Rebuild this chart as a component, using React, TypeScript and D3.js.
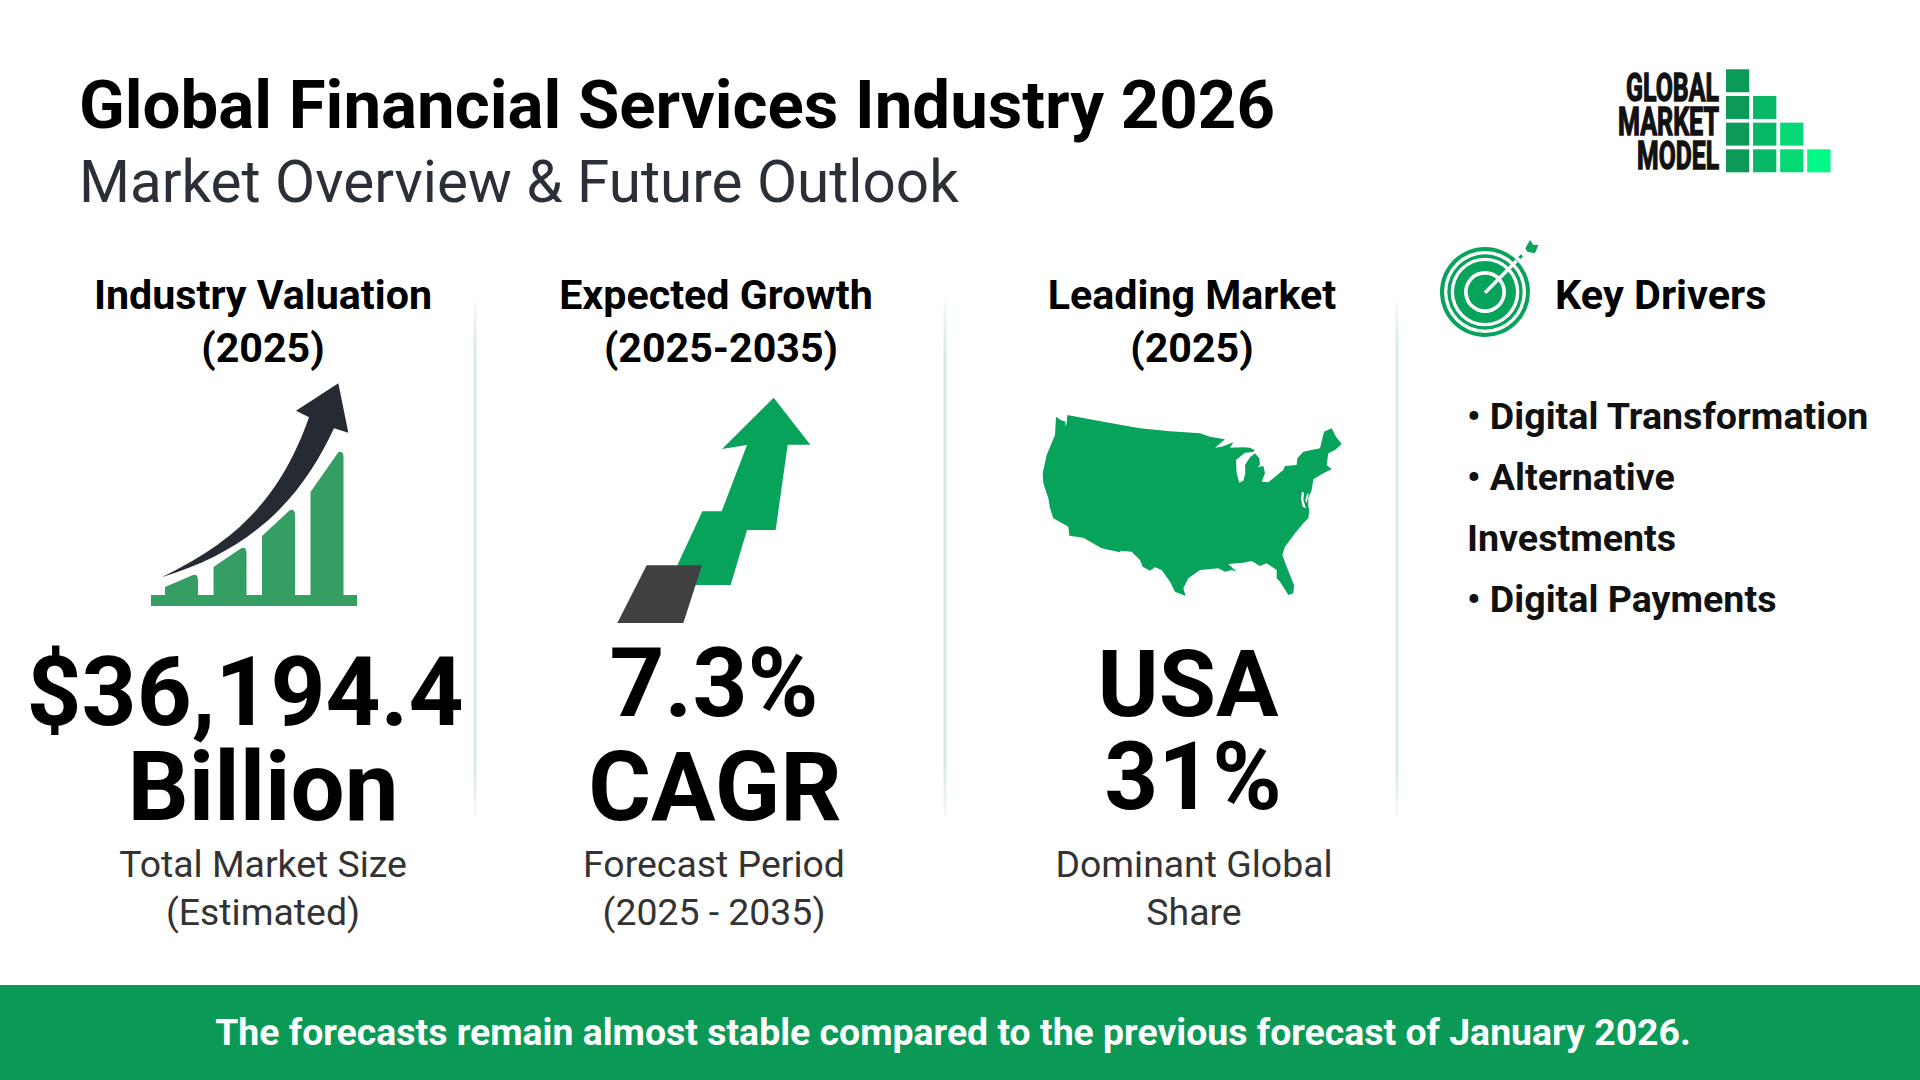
import React from 'react';
import * as d3 from 'd3';

const WIDTH = 1920;
const HEIGHT = 1080;

const title = 'Global Financial Services Industry 2026';
const subtitle = 'Market Overview & Future Outlook';
const footer = 'The forecasts remain almost stable compared to the previous forecast of January 2026.';

// KPI columns
const headers = [['Industry Valuation', '(2025)'], ['Expected Growth', '(2025-2035)'], ['Leading Market', '(2025)']];
const bigValues = [['$36,194.4', 'Billion'], ['7.3%', 'CAGR'], ['USA', '31%']];
const captions = [['Total Market Size', '(Estimated)'], ['Forecast Period', '(2025 - 2035)'], ['Dominant Global', 'Share']];
const drivers = ['• Digital Transformation', '• Alternative', 'Investments', '• Digital Payments'];

// logo stair: how many squares in each column
const logoWords = ['GLOBAL', 'MARKET', 'MODEL'];
const logoColumns = [4, 3, 2, 1];

// rising bars of the valuation icon [left height, right height]
const valuationBars = [[8, 20], [28, 47], [59, 85], [103, 143]];

// outlines, in 3x crop units
const growthArrow: [number, number][] = [[521, 53], [631, 194], [563, 194], [527, 450], [441, 450], [392, 615], [230, 615], [232, 556], [307, 394], [365, 394], [441, 195], [366, 207]];
const growthBase: [number, number][] = [[140, 556], [306, 556], [250, 729], [52, 729]];
const usaOutline: [number, number][] = [
  [108, 80], [122, 90], [137, 95], [134, 110], [140, 100], [142, 75], [250, 95], [360, 115], [450, 124], [540, 130], [570, 140], [615, 148],
  [585, 173], [605, 170], [640, 157], [630, 173], [670, 172], [690, 173], [703, 180], [700, 186], [675, 188], [648, 210], [650, 250], [658, 278],
  [670, 272], [676, 250], [675, 225], [690, 202], [705, 190], [718, 205], [720, 225], [712, 232], [730, 228], [735, 250], [725, 275], [745, 277],
  [790, 240], [795, 228], [830, 225], [832, 205], [850, 185], [900, 175], [912, 125], [935, 115], [948, 140], [965, 162], [945, 180], [925, 190],
  [920, 225], [935, 238], [910, 250], [880, 268], [875, 300], [865, 325], [865, 350], [868, 360], [865, 385], [850, 400], [825, 430], [795, 470],
  [787, 495], [800, 530], [822, 585], [820, 610], [805, 615], [780, 575], [770, 565], [770, 540], [740, 520], [720, 528], [695, 513], [670, 518],
  [625, 522], [650, 545], [635, 540], [615, 545], [595, 535], [540, 540], [505, 565], [490, 595], [497, 618], [465, 605], [450, 575], [425, 540],
  [405, 532], [390, 542], [368, 530], [360, 510], [335, 485], [302, 482], [300, 487], [245, 475], [190, 443], [148, 437], [145, 410], [100, 385],
  [90, 355], [85, 325], [70, 280], [68, 250], [80, 195], [105, 135],
];
const chesapeake: [number, number][][] = [
  [[846, 305], [852, 308], [850, 330], [858, 355], [848, 350], [843, 325]],
  [[862, 310], [866, 312], [860, 340], [856, 330]],
  [[880, 270], [905, 257], [885, 265]],
];
const dartFlight: [number, number][] = [[316, 85], [330, 60], [340, 75], [355, 75], [345, 100], [322, 95]];

const GREEN = '#08a35b';
const targetRings = [[135, GREEN], [123, '#fff'], [113, GREEN], [103, '#fff'], [93, GREEN], [63, '#fff'], [52, GREEN]] as [number, string][];
const FONT = 'Roboto, sans-serif';

const crop = (x0: number, y0: number) => {
  const sx = d3.scaleLinear().domain([0, 3]).range([x0, x0 + 1]);
  const sy = d3.scaleLinear().domain([0, 3]).range([y0, y0 + 1]);
  return {
    sx,
    sy,
    poly: d3.line<[number, number]>().x(d => sx(d[0])).y(d => sy(d[1])),
  };
};

const logoColor = d3.scaleLinear<string>().domain([0, 3]).range(['#0b9a58', '#00f884']);

function ValuationIcon() {
  const { sx, sy } = crop(130, 360);
  const base = 595;
  const left = d3.scaleBand<number>().domain(d3.range(4)).range([165, 343.5]).paddingInner(0.32);

  const arrow = d3.path();
  arrow.moveTo(sx(95), sy(652));
  arrow.bezierCurveTo(sx(280), sy(560), sx(440), sy(450), sx(537), sy(172));
  arrow.lineTo(sx(498), sy(152));
  arrow.lineTo(sx(625), sy(70));
  arrow.lineTo(sx(655), sy(218));
  arrow.lineTo(sx(612), sy(205));
  arrow.bezierCurveTo(sx(530), sy(380), sx(400), sy(560), sx(95), sy(652));
  arrow.closePath();

  return (
    <g>
      <rect x={sx(63)} y={sy(705)} width={206} height={11} fill="#359e62" />
      {valuationBars.map((b, i) => {
        const x = left(i) as number;
        const w = left.bandwidth();
        const p = d3.path();
        p.moveTo(x, base);
        p.lineTo(x, base - b[0]);
        p.lineTo(x + w - 5, base - b[1]);
        p.quadraticCurveTo(x + w, base - b[1] - 1, x + w, base - b[1] + 5);
        p.lineTo(x + w, base);
        p.closePath();
        return <path key={i} d={p.toString()} fill="#359e62" />;
      })}
      <path d={arrow.toString()} fill="#262a33" />
    </g>
  );
}

function GrowthIcon() {
  const { poly } = crop(600, 380);
  return (
    <g>
      <path d={poly(growthArrow) + 'Z'} fill={GREEN} />
      <path d={poly(growthBase) + 'Z'} fill="#404040" />
    </g>
  );
}

function UsaIcon() {
  const { poly } = crop(1020, 390);
  return (
    <g>
      <path d={poly(usaOutline) + 'Z'} fill={GREEN} />
      {chesapeake.map((c, i) => <path key={i} d={poly(c) + 'Z'} fill="#fff" />)}
    </g>
  );
}

function TargetIcon() {
  const { sx, sy, poly } = crop(1420, 220);
  return (
    <g>
      {targetRings.map(([r, c], i) => (
        <circle key={i} cx={sx(195)} cy={sy(216)} r={r / 3} fill={c} />
      ))}
      <line x1={sx(195)} y1={sy(218)} x2={sx(290)} y2={sy(122)} stroke="#fff" strokeWidth={3.5} />
      <line x1={sx(298)} y1={sy(114)} x2={sx(306)} y2={sy(106)} stroke={GREEN} strokeWidth={3} />
      <path d={poly(dartFlight) + 'Z'} fill={GREEN} />
    </g>
  );
}

function Logo() {
  const x = d3.scaleBand<number>().domain(d3.range(4)).range([1726, 1830.5]).paddingInner(0.14);
  const y = d3.scaleBand<number>().domain(d3.range(4)).range([69.3, 172.3]).paddingInner(0.14);
  const wordLens = [93, 101, 82];
  const wordY = [100.7, 135, 168.5];
  return (
    <g>
      {logoColumns.map((n, c) =>
        d3.range(4 - n, 4).map(r => (
          <rect key={`${c}-${r}`} x={x(c)} y={y(r)} width={x.bandwidth()} height={y.bandwidth()} fill={logoColor(c)} />
        )),
      )}
      {logoWords.map((w, i) => (
        <text key={w} x={1719} y={wordY[i]} textAnchor="end" fontFamily={FONT} fontWeight={700} fontSize={39}
          textLength={wordLens[i]} lengthAdjust="spacingAndGlyphs" fill="#111" stroke="#111" strokeWidth={1.4}>{w}</text>
      ))}
    </g>
  );
}

export default function App() {
  const headerX = [[263, 263], [716, 721], [1192, 1192]];
  const captionX = [263, 714, 1194];
  const bigX = [[245, 263], [714, 715], [1188, 1193]];
  const bigY = [[725, 820], [716, 820], [716, 809]];
  const bigSize = [[96, 96], [96, 96], [93, 94]];
  const dividers = [475, 945, 1397];
  return (
    <svg width={WIDTH} height={HEIGHT} viewBox={`0 0 ${WIDTH} ${HEIGHT}`} style={{ position: 'absolute', left: 0, top: 0, background: '#fff' }}>
      <defs>
        <linearGradient id="div" x1="0" x2="0" y1="0" y2="1">
          <stop offset="0" stopColor="#cfe8dc" stopOpacity={0.2} />
          <stop offset="0.1" stopColor="#d5ebe1" />
          <stop offset="0.9" stopColor="#d5ebe1" />
          <stop offset="1" stopColor="#cfe8dc" stopOpacity={0.2} />
        </linearGradient>
      </defs>
      <text x={79} y={128} fontFamily={FONT} fontWeight={700} fontSize={67.2} fill="#000">{title}</text>
      <text x={79} y={202} fontFamily={FONT} fontSize={58.4} fill="#2b3038">{subtitle}</text>
      <Logo />
      {dividers.map(x => <rect key={x} x={x - 1.5} y={302} width={3} height={514} fill="url(#div)" />)}
      {headers.map((lines, i) => lines.map((t, j) => (
        <text key={t + i} x={headerX[i][j]} y={309 + j * 53} textAnchor="middle" fontFamily={FONT} fontWeight={700} fontSize={41.2} fill="#000">{t}</text>
      )))}
      <ValuationIcon />
      <GrowthIcon />
      <UsaIcon />
      <TargetIcon />
      {bigValues.map((lines, i) => lines.map((t, j) => (
        <text key={t} x={bigX[i][j]} y={bigY[i][j]} textAnchor="middle" fontFamily={FONT} fontWeight={700} fontSize={bigSize[i][j]} fill="#000">{t}</text>
      )))}
      {captions.map((lines, i) => lines.map((t, j) => (
        <text key={t} x={captionX[i]} y={877 + j * 48} textAnchor="middle" fontFamily={FONT} fontSize={37.4} fill="#333">{t}</text>
      )))}
      <text x={1555} y={309} fontFamily={FONT} fontWeight={700} fontSize={41.4} fill="#000">Key Drivers</text>
      {drivers.map((t, i) => (
        <text key={t} x={1467} y={429 + i * 61} fontFamily={FONT} fontWeight={700} fontSize={37.6} fill="#111">{t}</text>
      ))}
      <rect x={0} y={985} width={WIDTH} height={95} fill="#0a9a55" />
      <text x={953} y={1045} textAnchor="middle" fontFamily={FONT} fontWeight={700} fontSize={37.4} fill="#fff">{footer}</text>
    </svg>
  );
}
